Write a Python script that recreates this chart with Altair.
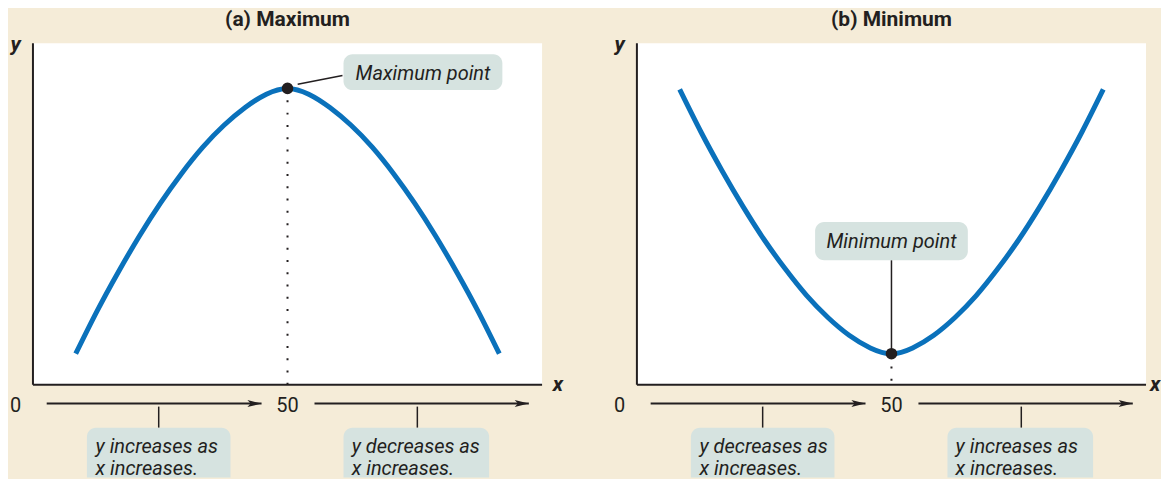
import altair as alt
import pandas as pd

# ---------------- data ----------------
curve_x = [8.4, 12.56, 16.72, 20.88, 25.04, 29.2, 33.36, 37.52, 41.68, 45.84, 50,
           54.16, 58.32, 62.48, 66.64, 70.8, 74.96, 79.12, 83.28, 87.44, 91.6]
max_curve_y = [9.1, 21.5, 32.9, 43.5, 53.2, 61.9, 69.6, 76.0, 81.2, 85.1, 86.8,
               85.1, 81.2, 76.0, 69.6, 61.9, 53.2, 43.5, 32.9, 21.5, 9.1]
min_curve_y = [86.5, 74.1, 62.7, 52.1, 42.4, 33.8, 26.1, 19.7, 14.5, 10.8, 9.1,
               10.8, 14.5, 19.7, 26.1, 33.8, 42.4, 52.1, 62.7, 74.1, 86.5]

panel_titles = ["(a) Maximum", "(b) Minimum"]
point_labels = ["Maximum point", "Minimum point"]
extreme_x = 50
extreme_y = [86.8, 9.1]
tick_labels = ["0", "50"]
tick_values = [0, 50]
note_left = [["y increases as", "x increases."], ["y decreases as", "x increases."]]
note_right = [["y decreases as", "x increases."], ["y increases as", "x increases."]]

# ---------------- styling ----------------
BG = "#f5ecd8"
BOX = "#d6e3e0"
INK = "#231f20"
BLUE = "#0a71bb"
FONT = "Roboto"
W, H = 510, 342

X = alt.Scale(domain=[0, 100], nice=False, zero=False)
Y = alt.Scale(domain=[0, 100], nice=False, zero=False)


def enc(x="x", y="y", x2=None, y2=None, **kw):
    e = dict(x=alt.X(f"{x}:Q", scale=X, axis=None), y=alt.Y(f"{y}:Q", scale=Y, axis=None))
    if x2:
        e["x2"] = alt.X2(f"{x2}:Q")
    if y2:
        e["y2"] = alt.Y2(f"{y2}:Q")
    e.update(kw)
    return e


def rects(rows, **mk):
    return alt.Chart(pd.DataFrame(rows)).mark_rect(**mk).encode(**enc(x2="x2", y2="y2"))


def rules(rows, **mk):
    return alt.Chart(pd.DataFrame(rows)).mark_rule(**mk).encode(**enc(x2="x2", y2="y2"))


def texts(rows, **mk):
    return alt.Chart(pd.DataFrame(rows)).mark_text(font=FONT, color=INK, baseline="alphabetic", **mk).encode(
        **enc(text="t:N"))


def panel(i, curve_y, bg_x, x_label_x, callout_box, callout_text, connector, dotted_from):
    ey = extreme_y[i]
    layers = []
    # beige backdrop and white plot area
    layers.append(rects([dict(x=bg_x[0], x2=bg_x[1], y=-27.2, y2=109.94)], fill=BG))
    layers.append(rects([dict(x=0, x2=100, y=0, y2=100)], fill="white"))
    # axis lines
    layers.append(rules([dict(x=0, x2=0, y=0, y2=100), dict(x=0, x2=100, y=0, y2=0)],
                        color=INK, strokeWidth=2))
    # dotted guide
    layers.append(rules([dict(x=extreme_x, x2=extreme_x, y=dotted_from, y2=ey)],
                        color=INK, strokeWidth=2, strokeDash=[2, 10.3]))
    # curve
    layers.append(alt.Chart(pd.DataFrame(dict(x=curve_x, y=curve_y))).mark_line(
        color=BLUE, strokeWidth=5, interpolate="natural").encode(**enc()))
    # callout connector, box, text
    layers.append(rules([connector], color=INK, strokeWidth=1.5))
    layers.append(rects([callout_box], fill=BOX, cornerRadius=9))
    layers.append(texts([dict(x=callout_text[0], y=callout_text[1], t=point_labels[i])],
                        fontSize=20, fontStyle="italic", align="center"))
    # extreme point
    layers.append(alt.Chart(pd.DataFrame(dict(x=[extreme_x], y=[ey]))).mark_circle(
        size=135, color=INK, opacity=1).encode(**enc()))
    # title and axis letters
    layers.append(texts([dict(x=50, y=105.0, t=panel_titles[i])],
                        fontSize=21, fontWeight="bold", align="center"))
    layers.append(texts([dict(x=-3.4, y=97.7, t="y"), dict(x=x_label_x, y=-1.75, t="x")],
                        fontSize=21, fontWeight="bold", fontStyle="italic", align="center"))
    # tick labels 0 / 50
    layers.append(texts([dict(x=-3.4 if v == 0 else v, y=-7.9, t=t) for v, t in zip(tick_values, tick_labels)],
                        fontSize=20, align="center"))
    # arrows
    layers.append(rules([dict(x=2.7, x2=44.9, y=-5.5, y2=-5.5), dict(x=55.3, x2=97.4, y=-5.5, y2=-5.5)],
                        color=INK, strokeWidth=2))
    layers.append(alt.Chart(pd.DataFrame(dict(x=[43.5, 96.0], y=[-5.5, -5.5]))).mark_point(
        shape="M1,0L-1,-0.5L-0.55,0L-1,0.5Z", size=196, filled=True, color=INK, opacity=1,
        strokeWidth=0).encode(**enc()))
    # ticks to notes
    layers.append(rules([dict(x=24.7, x2=24.7, y=-6.4, y2=-12.6), dict(x=75.5, x2=75.5, y=-6.4, y2=-12.6)],
                        color=INK, strokeWidth=1.5))
    # note boxes
    layers.append(rects([dict(x=10.6, x2=38.8, y=-27.2, y2=-12.6), dict(x=61.0, x2=89.6, y=-27.2, y2=-12.6)],
                        fill=BOX, cornerRadiusTopLeft=9, cornerRadiusTopRight=9))
    rows = []
    for xx, lines in ((12.3, note_left[i]), (62.6, note_right[i])):
        rows.append(dict(x=xx, y=-19.9, t=lines[0]))
        rows.append(dict(x=xx, y=-26.3, t=lines[1]))
    layers.append(texts(rows, fontSize=20, fontStyle="italic", align="left"))
    return alt.layer(*layers).properties(width=W, height=H)


pa = panel(0, max_curve_y, (-4.706, 111.4), 103.1,
           dict(x=61.0, x2=92.2, y=86.3, y2=96.8), (76.6, 89.2),
           dict(x=52.0, x2=60.8, y=88.0, y2=90.6), 0)
pb = panel(1, min_curve_y, (-9.6, 102.75), 101.8,
           dict(x=35.0, x2=65.0, y=36.5, y2=47.7), (50, 40.1),
           dict(x=50, x2=50, y=9.1, y2=36.5), 1.2)

chart = alt.hconcat(pa, pb, spacing=95, bounds="flush").properties(
    padding=0, background=BG, autosize=alt.AutoSizeParams(type="pad")
).configure_view(strokeWidth=0)

chart.save("out.html", embed_options={"renderer": "svg", "actions": False})
